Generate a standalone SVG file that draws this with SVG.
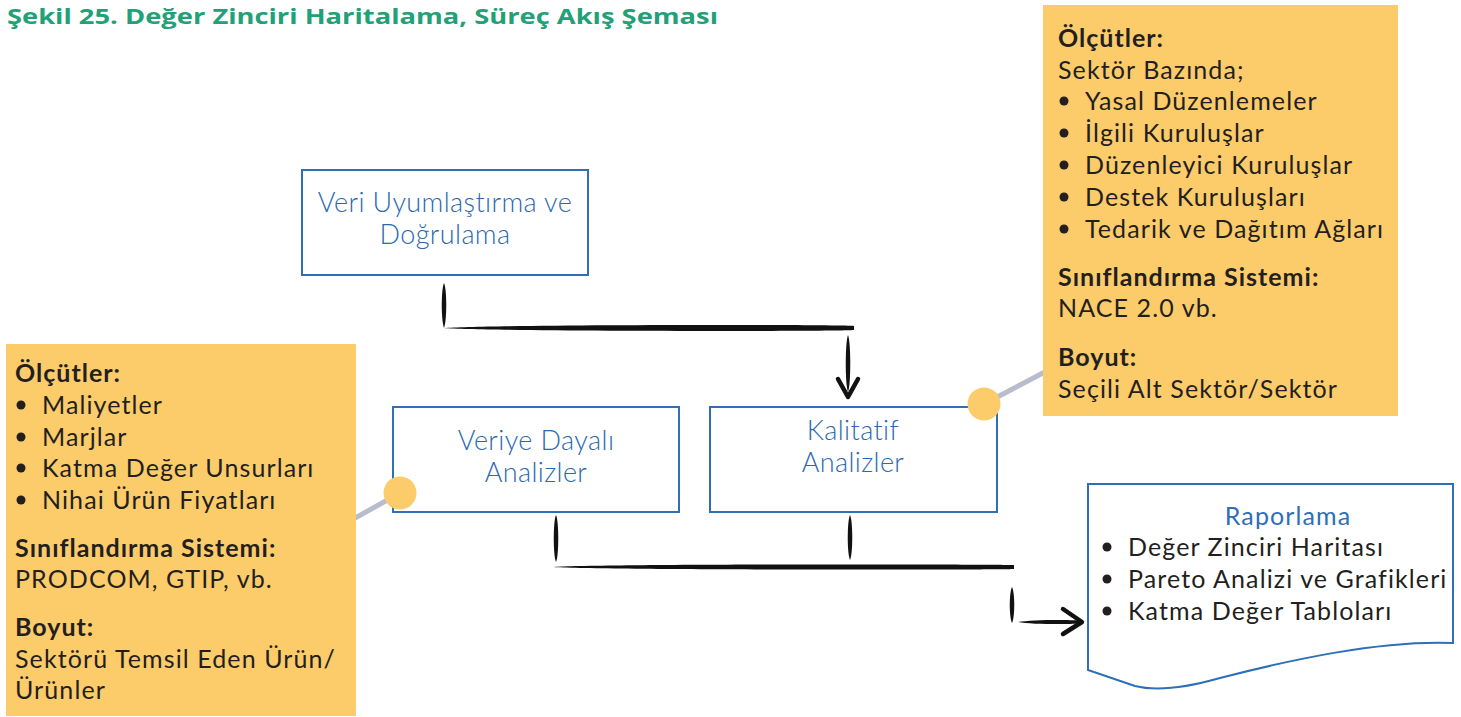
<svg xmlns="http://www.w3.org/2000/svg" width="1461" height="717" viewBox="0 0 1461 717">
  <style>
    .title { font-family: "Open Sans", "Noto Sans", "Liberation Sans", sans-serif; font-weight: 700; font-size: 22px; fill: #22a077; }
    .note { fill: #fccb6a; }
    .nt { font-family: Lato, "Liberation Sans", sans-serif; font-size: 25px; letter-spacing: 1.1px; fill: #231f20; }
    .nb { font-weight: 700; letter-spacing: 1px; }
    .dot { fill: #231f20; }
    .box { fill: #ffffff; stroke: #2e6fb7; stroke-width: 2; }
    .bt { font-family: Lato, "Liberation Sans", sans-serif; font-weight: 300; font-size: 27px; letter-spacing: 0.4px; fill: #2a68b0; text-anchor: middle; }
    .ink { fill: #111111; }
    .head { fill: none; stroke: #111111; stroke-width: 4.5; stroke-linecap: round; stroke-linejoin: round; }
    .link { stroke: #b9bccd; stroke-width: 5; }
    .pin { fill: #fccb6a; }
  </style>

  <text class="title" x="7" y="24" textLength="711" lengthAdjust="spacingAndGlyphs">Şekil 25. Değer Zinciri Haritalama, Süreç Akış Şeması</text>

  <!-- callout leader lines (behind the notes) -->
  <g id="leaders">
    <line class="link" x1="400" y1="493" x2="330" y2="532"/>
    <line class="link" x1="984" y1="404" x2="1060" y2="364"/>
  </g>

  <!-- left note: data-driven analysis criteria -->
  <g id="note-left">
    <rect class="note" x="6" y="344" width="350" height="372"/>
    <text class="nt nb" x="15" y="382">Ölçütler:</text>
    <circle class="dot" cx="21" cy="405" r="4.5"/>
    <text class="nt" x="42" y="414">Maliyetler</text>
    <circle class="dot" cx="21" cy="437" r="4.5"/>
    <text class="nt" x="42" y="446">Marjlar</text>
    <circle class="dot" cx="21" cy="468" r="4.5"/>
    <text class="nt" x="42" y="477">Katma Değer Unsurları</text>
    <circle class="dot" cx="21" cy="500" r="4.5"/>
    <text class="nt" x="42" y="509">Nihai Ürün Fiyatları</text>
    <text class="nt nb" x="15" y="557">Sınıflandırma Sistemi:</text>
    <text class="nt" x="15" y="588">PRODCOM, GTIP, vb.</text>
    <text class="nt nb" x="15" y="636">Boyut:</text>
    <text class="nt" x="15" y="668">Sektörü Temsil Eden Ürün/</text>
    <text class="nt" x="15" y="699">Ürünler</text>
  </g>

  <!-- right note: qualitative analysis criteria -->
  <g id="note-right">
    <rect class="note" x="1043" y="5" width="355" height="411"/>
    <text class="nt nb" x="1058" y="47">Ölçütler:</text>
    <text class="nt" x="1058" y="79">Sektör Bazında;</text>
    <circle class="dot" cx="1064" cy="101" r="4.5"/>
    <text class="nt" x="1085" y="110">Yasal Düzenlemeler</text>
    <circle class="dot" cx="1064" cy="133" r="4.5"/>
    <text class="nt" x="1085" y="142">İlgili Kuruluşlar</text>
    <circle class="dot" cx="1064" cy="165" r="4.5"/>
    <text class="nt" x="1085" y="174">Düzenleyici Kuruluşlar</text>
    <circle class="dot" cx="1064" cy="197" r="4.5"/>
    <text class="nt" x="1085" y="206">Destek Kuruluşları</text>
    <circle class="dot" cx="1064" cy="229" r="4.5"/>
    <text class="nt" x="1085" y="238">Tedarik ve Dağıtım Ağları</text>
    <text class="nt nb" x="1058" y="286">Sınıflandırma Sistemi:</text>
    <text class="nt" x="1058" y="317">NACE 2.0 vb.</text>
    <text class="nt nb" x="1058" y="366">Boyut:</text>
    <text class="nt" x="1058" y="398">Seçili Alt Sektör/Sektör</text>
  </g>

  <g id="node-veri-uyumlastirma">
    <rect class="box" x="302" y="170" width="286" height="105"/>
    <text class="bt" x="445" y="212">Veri Uyumlaştırma ve</text>
    <text class="bt" x="445" y="244">Doğrulama</text>
  </g>

  <g id="node-veriye-dayali">
    <rect class="box" x="393" y="407" width="286" height="105"/>
    <text class="bt" x="536" y="450">Veriye Dayalı</text>
    <text class="bt" x="536" y="482">Analizler</text>
  </g>

  <g id="node-kalitatif">
    <rect class="box" x="710" y="407" width="287" height="105"/>
    <text class="bt" x="853" y="440">Kalitatif</text>
    <text class="bt" x="853" y="472">Analizler</text>
  </g>

  <g id="node-raporlama">
    <path class="box" d="M1088 484 H1453 V643 C1380 640 1290 660 1220 678 C1185 688 1155 691 1135 686 L1088 670 Z"/>
    <text class="nt" x="1288" y="525" text-anchor="middle" style="fill:#2e6fb7">Raporlama</text>
    <circle class="dot" cx="1107" cy="547" r="4.5"/>
    <text class="nt" x="1128" y="556">Değer Zinciri Haritası</text>
    <circle class="dot" cx="1107" cy="579" r="4.5"/>
    <text class="nt" x="1128" y="588">Pareto Analizi ve Grafikleri</text>
    <circle class="dot" cx="1107" cy="611" r="4.5"/>
    <text class="nt" x="1128" y="620">Katma Değer Tabloları</text>
  </g>

  <!-- attachment pins of the notes -->
  <g id="pins">
    <circle class="pin" cx="400" cy="493" r="16.5"/>
    <circle class="pin" cx="984" cy="404" r="16.5"/>
  </g>

  <!-- brush-style connectors -->
  <g id="connectors">
    <path class="ink" d="M444 283 C447 290 447 320 444 328 C441 320 441 290 444 283 Z"/>
    <path class="ink" d="M444 328 C490 324.5 840 324.5 854 326 L854 330 C840 331.5 490 331.5 444 328 Z"/>
    <path class="ink" d="M848 335 C851 342 851 385 848 392 C845 385 845 342 848 335 Z"/>
    <polyline class="head" points="838,379 848,397 858,379"/>

    <path class="ink" d="M556 515 C559 521 559 556 556 562 C553 556 553 521 556 515 Z"/>
    <path class="ink" d="M850 515 C853 521 853 554 850 560 C847 554 847 521 850 515 Z"/>
    <path class="ink" d="M554 567 C590 564 1000 564 1014 565 L1014 569 C1000 570 590 570 554 567 Z"/>
    <path class="ink" d="M1012 587 C1015 593 1015 617 1012 623 C1009 617 1009 593 1012 587 Z"/>
    <path class="ink" d="M1018 622 C1030 619.5 1070 619.5 1078 620.5 L1078 623.5 C1070 624.5 1030 624.5 1018 622 Z"/>
    <polyline class="head" points="1063,609 1082,622 1063,634"/>
  </g>
</svg>
